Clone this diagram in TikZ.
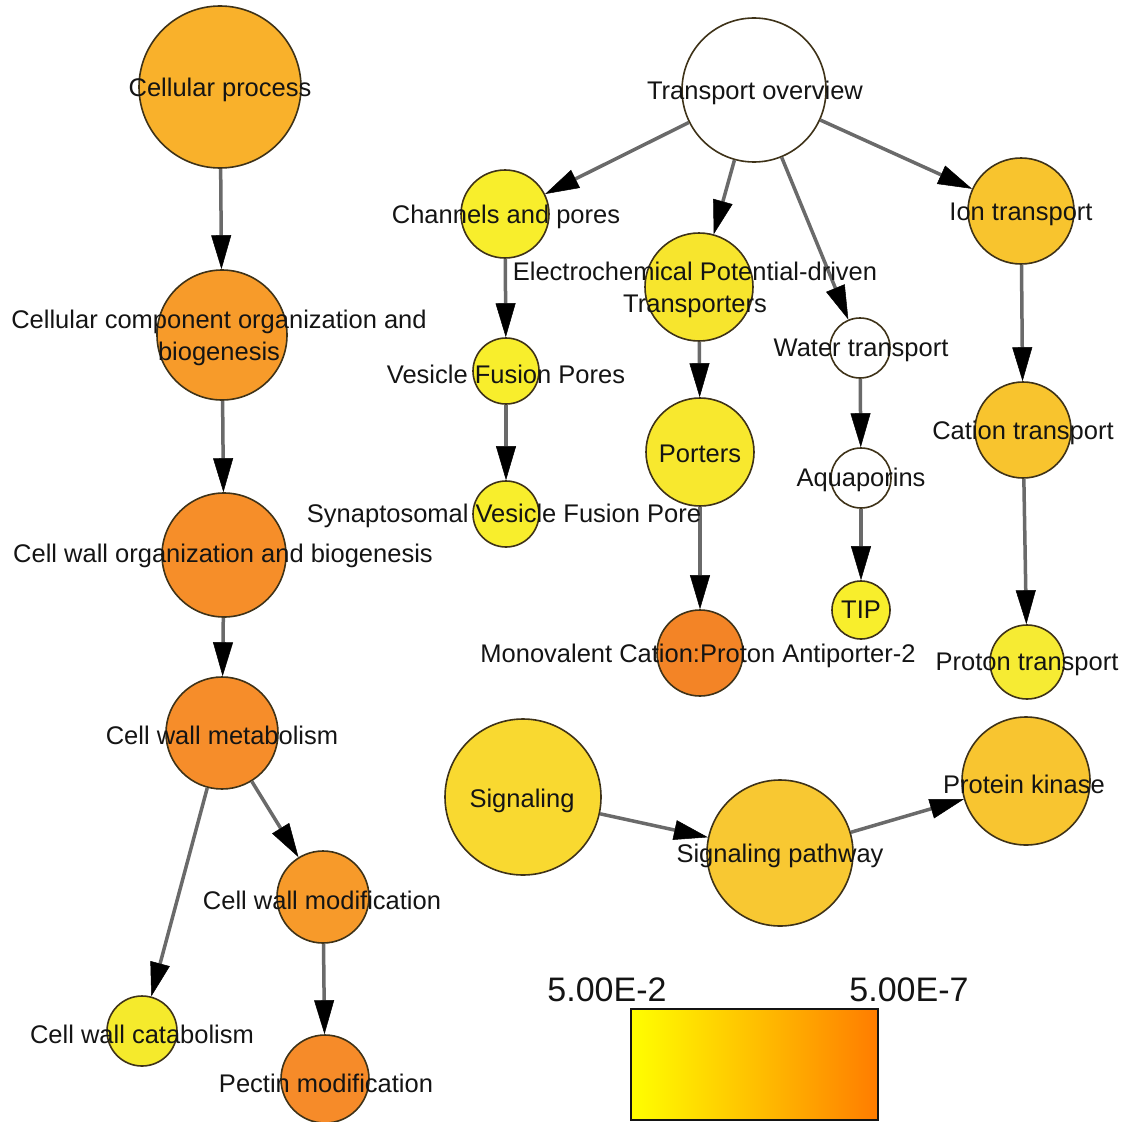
\documentclass[tikz,border=0pt]{standalone}
\usepackage{fontspec}
\setmainfont{Liberation Sans}
\usetikzlibrary{arrows.meta}
\definecolor{edgegray}{HTML}{6A6A6A}
\definecolor{rim}{HTML}{3E3218}
\definecolor{txt}{HTML}{141414}
\definecolor{cA}{HTML}{F9B12B}
\definecolor{cB}{HTML}{F79B2A}
\definecolor{cC}{HTML}{F68E29}
\definecolor{cD}{HTML}{F68D2A}
\definecolor{cE}{HTML}{F79A2A}
\definecolor{cF}{HTML}{F5EA2C}
\definecolor{cG}{HTML}{F68B29}
\definecolor{cY}{HTML}{F8EE2C}
\definecolor{cEl}{HTML}{F7E52D}
\definecolor{cIon}{HTML}{F8C42E}
\definecolor{cPort}{HTML}{F8E82E}
\definecolor{cMono}{HTML}{F38426}
\definecolor{cProt}{HTML}{F6EB33}
\definecolor{cSig}{HTML}{F9D930}
\definecolor{cSigP}{HTML}{F8C832}
\definecolor{cPK}{HTML}{F8C530}
\definecolor{legY}{HTML}{FFFF00}
\definecolor{legM}{HTML}{FFC000}
\definecolor{legO}{HTML}{FF7C00}
\begin{document}
\begin{tikzpicture}[x=1pt,y=-1pt,
  bub/.style={circle, inner sep=0pt, draw=rim, line width=1.6pt, minimum size=#1},
  lab/.style={text=txt, align=center, inner sep=0pt, font=\fontsize{25.5}{32}\selectfont},
  edge/.style={draw=edgegray, line width=3.5pt, -{Triangle[length=34pt,width=20pt,line width=0.5pt,color=black]}},
  leglab/.style={text=txt, inner sep=0pt, font=\fontsize{34}{40}\selectfont}]
\useasboundingbox (0,0) rectangle (1126,1121);
% bubbles
\node[bub=162pt, fill=cA] (cp) at (220,87) {};
\node[bub=130pt, fill=cB] (ccob) at (222,335) {};
\node[bub=124pt, fill=cC] (cwob) at (224,555) {};
\node[bub=112pt, fill=cD] (cwm) at (222,733) {};
\node[bub=92pt, fill=cE] (cwmod) at (323,897) {};
\node[bub=70pt, fill=cF] (cwc) at (142,1031) {};
\node[bub=88pt, fill=cG] (pm) at (325,1079) {};
\node[bub=144pt, fill=white] (to) at (754,90) {};
\node[bub=88pt, fill=cY] (chp) at (505,214) {};
\node[bub=108pt, fill=cEl] (ecp) at (699,287) {};
\node[bub=106pt, fill=cIon] (ion) at (1021,211) {};
\node[bub=60pt, fill=white] (wt) at (860,348) {};
\node[bub=66pt, fill=cY] (vfp) at (506,371) {};
\node[bub=108pt, fill=cPort] (port) at (700,452) {};
\node[bub=60pt, fill=white] (aq) at (861,478) {};
\node[bub=66pt, fill=cY] (syn) at (506,514) {};
\node[bub=96pt, fill=cIon] (cat) at (1023,430) {};
\node[bub=58pt, fill=cY] (tip) at (861,610) {};
\node[bub=86pt, fill=cMono] (mono) at (700,653) {};
\node[bub=74pt, fill=cProt] (prot) at (1027,662) {};
\node[bub=156pt, fill=cSig] (sig) at (523,797) {};
\node[bub=146pt, fill=cSigP] (sigp) at (780,853) {};
\node[bub=128pt, fill=cPK] (pk) at (1026,781) {};
% edges
\draw[edge] (cp) -- (ccob);
\draw[edge] (ccob) -- (cwob);
\draw[edge] (cwob) -- (cwm);
\draw[edge] (cwm) -- (cwc);
\draw[edge] (cwm) -- (cwmod);
\draw[edge] (cwmod) -- (pm);
\draw[edge] (to) -- (chp);
\draw[edge] (to) -- (ecp);
\draw[edge] (to) -- (wt);
\draw[edge] (to) -- (ion);
\draw[edge] (chp) -- (vfp);
\draw[edge] (vfp) -- (syn);
\draw[edge] (ecp) -- (port);
\draw[edge] (port) -- (mono);
\draw[edge] (wt) -- (aq);
\draw[edge] (aq) -- (tip);
\draw[edge] (ion) -- (cat);
\draw[edge] (cat) -- (prot);
\draw[edge] (sig) -- (sigp);
\draw[edge] (sigp) -- (pk);
% labels
\node[lab] (cp-t) at (220,90) {Cellular process};
\node[lab] (ccob-t) at (219,338) {Cellular component organization and\\biogenesis};
\node[lab] (cwob-t) at (223,556) {Cell wall organization and biogenesis};
\node[lab] (cwm-t) at (222,735) {Cell wall metabolism};
\node[lab] (cwmod-t) at (322,900) {Cell wall modification};
\node[lab] (cwc-t) at (142,1034) {Cell wall catabolism};
\node[lab] (pm-t) at (326,1083) {Pectin modification};
\node[lab] (to-t) at (755,93) {Transport overview};
\node[lab] (chp-t) at (506,217) {Channels and pores};
\node[lab] (ecp-t) at (695,290) {Electrochemical Potential-driven\\Transporters};
\node[lab] (ion-t) at (1021,214) {Ion transport};
\node[lab] (wt-t) at (861,350) {Water transport};
\node[lab] (vfp-t) at (506,374) {Vesicle Fusion Pores};
\node[lab] (port-t) at (700,454) {Porters};
\node[lab] (aq-t) at (861,480) {Aquaporins};
\node[lab] (syn-t) at (504,516) {Synaptosomal Vesicle Fusion Pore};
\node[lab] (cat-t) at (1023,433) {Cation transport};
\node[lab] (tip-t) at (861,610) {TIP};
\node[lab] (mono-t) at (698,656) {Monovalent Cation:Proton Antiporter-2};
\node[lab] (prot-t) at (1027,664) {Proton transport};
\node[lab] (sig-t) at (522,801) {Signaling};
\node[lab] (sigp-t) at (780,856) {Signaling pathway};
\node[lab] (pk-t) at (1024,784) {Protein kinase};
% legend
\shade[left color=legY, right color=legO, middle color=legM] (631,1009) rectangle (878,1120);
\node[draw=txt, line width=1.5pt, minimum width=247pt, minimum height=111pt, inner sep=0pt] (legbox) at (754.5,1064.5) {};
\node[leglab] (leg-lo) at (607,990) {5.00E-2};
\node[leglab] (leg-hi) at (909,990) {5.00E-7};
\end{tikzpicture}
\end{document}
